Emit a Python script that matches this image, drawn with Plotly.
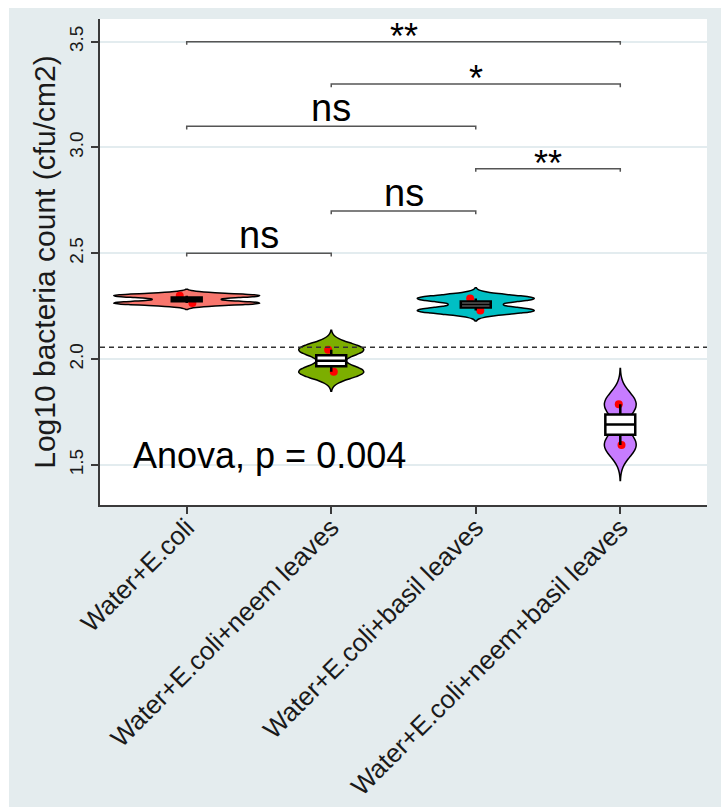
import numpy as np
import plotly.graph_objects as go

# ---------------- data ----------------
categories = ["Water+E.coli", "Water+E.coli+neem leaves",
              "Water+E.coli+basil leaves", "Water+E.coli+neem+basil leaves"]
ecoli = [2.265, 2.300]
ecoli_neem = [1.940, 2.045]
ecoli_basil = [2.230, 2.287]
ecoli_neem_basil = [1.595, 1.787]
groups = [ecoli, ecoli_neem, ecoli_basil, ecoli_neem_basil]

fill_colors = ["#F8766D", "#7CAE00", "#00BFC4", "#C77CFF"]
violin_widths = [1.01, 0.45, 0.81, 0.22]

comp_pairs = [(0, 1), (1, 2), (2, 3), (0, 2), (1, 3), (0, 3)]
comp_labels = ["ns", "ns", "**", "ns", "*", "**"]
comp_levels = [2.5, 2.7, 2.9, 3.1, 3.3, 3.5]
anova_label = "Anova, p = 0.004"
y_ticks = [1.5, 2.0, 2.5, 3.0, 3.5]

# ---------------- layout constants ----------------
W, H = 721, 807
ML, MR, MT, MB = 100, 14, 19, 302
BOX_W = 0.207          # inner box width in category units
FONT = "Liberation Sans, Arial, Helvetica, sans-serif"
TXT = "#1a1a1a"
AX = "#3a3a3a"


def nrd0(v):
    v = np.asarray(v, dtype=float)
    sd = v.std(ddof=1)
    q1, q3 = np.percentile(v, [25, 75])
    lo = min(sd, (q3 - q1) / 1.34)
    return 0.9 * lo * len(v) ** -0.2


fig = go.Figure()

# violin bodies
for cat, vals, col, w in zip(categories, groups, fill_colors, violin_widths):
    bw = nrd0(vals)
    fig.add_trace(go.Violin(
        x=[cat] * len(vals), y=vals, name=cat,
        fillcolor=col, opacity=1,
        line=dict(color="black", width=1.5),
        width=w, scalemode="width",
        bandwidth=bw, spanmode="manual",
        span=[min(vals) - 3 * bw, max(vals) + 3 * bw],
        points=False, box=dict(visible=False), meanline=dict(visible=False),
        showlegend=False, hoverinfo="skip",
    ))

# inner boxplots (R type-7 quartiles)
for cat, vals in zip(categories, groups):
    q1, med, q3 = np.percentile(vals, [25, 50, 75])
    fig.add_trace(go.Box(
        x=[cat], q1=[q1], median=[med], q3=[q3],
        lowerfence=[min(vals)], upperfence=[max(vals)],
        width=BOX_W, whiskerwidth=0,
        fillcolor="white", line=dict(color="black", width=2.5),
        boxpoints=False, showlegend=False, hoverinfo="skip",
    ))

# sample points (drawn on top, with small jitter)
for cat, vals, w in zip(categories, groups, violin_widths):
    bw = nrd0(vals)
    fig.add_trace(go.Violin(
        x=[cat] * len(vals), y=vals, name=cat,
        fillcolor="rgba(0,0,0,0)", line=dict(color="rgba(0,0,0,0)", width=0),
        width=w, scalemode="width",
        bandwidth=bw, spanmode="manual",
        span=[min(vals) - 3 * bw, max(vals) + 3 * bw],
        points="all", pointpos=0, jitter=0.15,
        marker=dict(color="#FF0000", size=8, line=dict(width=0)),
        box=dict(visible=False), meanline=dict(visible=False),
        showlegend=False, hoverinfo="y",
    ))

# overall mean reference line
overall_mean = float(np.mean(np.concatenate([np.asarray(g) for g in groups])))

# significance brackets
tip = 0.015
bx, by = [], []
for (i, j), lvl in zip(comp_pairs, comp_levels):
    bx += [categories[i], categories[i], categories[j], categories[j], None]
    by += [lvl - tip, lvl, lvl, lvl - tip, None]
fig.add_trace(go.Scatter(x=bx, y=by, mode="lines",
                         line=dict(color="#555555", width=1.5),
                         showlegend=False, hoverinfo="skip"))

annotations = []
for (i, j), lvl, lab in zip(comp_pairs, comp_levels, comp_labels):
    is_ns = lab == "ns"
    annotations.append(dict(
        x=(i + j) / 2, y=lvl, xref="x", yref="y", text=lab, showarrow=False,
        xanchor="center", yanchor="middle",
        yshift=18 if is_ns else 5,
        font=dict(size=38 if is_ns else 36, color="black", family=FONT)))

annotations.append(dict(
    x=-0.385, y=1.547, xref="x", yref="y", text=anova_label, showarrow=False,
    xanchor="left", yanchor="middle",
    font=dict(size=36, color="black", family=FONT)))

pw = W - ML - MR
ph = H - MT - MB
shapes = [
    # grey page panel
    dict(type="rect", xref="paper", yref="paper", layer="below",
         x0=(9 - ML) / pw, x1=(W + 5 - ML) / pw,
         y0=-(MB + 5) / ph, y1=(ph + MT - 8) / ph,
         fillcolor="#E4ECEE", line=dict(width=0)),
    # white plotting panel
    dict(type="rect", xref="paper", yref="paper", layer="below",
         x0=0, x1=1, y0=0, y1=1, fillcolor="white", line=dict(width=0)),
    # overall mean dashed line
    dict(type="line", xref="paper", yref="y", x0=0, x1=1,
         y0=overall_mean, y1=overall_mean,
         line=dict(color="#333333", width=1.5, dash="5px,4px")),
]

fig.update_layout(
    width=W, height=H,
    margin=dict(l=ML, r=MR, t=MT, b=MB, pad=0),
    paper_bgcolor="white", plot_bgcolor="white",
    violinmode="overlay", boxmode="overlay", showlegend=False,
    font=dict(family=FONT, color=TXT),
    shapes=shapes, annotations=annotations,
    xaxis=dict(type="category", categoryorder="array", categoryarray=categories,
               range=[-0.6, 3.6], tickangle=-45, tickfont=dict(size=26, color=TXT),
               ticklabelstandoff=-12,
               showline=True, linecolor=AX, linewidth=2,
               ticks="outside", ticklen=7, tickwidth=1.5, tickcolor=AX,
               showgrid=False, zeroline=False, automargin=False),
    yaxis=dict(range=[1.311, 3.607], tickvals=y_ticks,
               ticktext=[f"{v:.1f}" for v in y_ticks],
               tickangle=-90, tickfont=dict(size=19, color=TXT),
               showline=True, linecolor=AX, linewidth=2,
               ticks="outside", ticklen=7, tickwidth=1.5, tickcolor=AX,
               showgrid=True, gridcolor="#E3ECEF", gridwidth=1.5,
               zeroline=False, automargin=False,
               title=dict(text="Log10 bacteria count (cfu/cm2)",
                          font=dict(size=30, color=TXT), standoff=2)),
)

fig.write_html("out.html")
